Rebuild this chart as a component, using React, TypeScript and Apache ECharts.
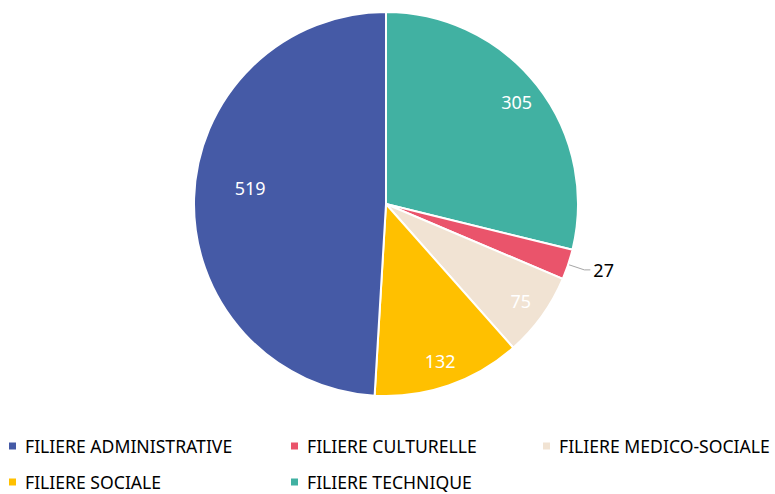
import React, { useEffect, useRef } from "react";
import * as echarts from "echarts";

const categories = [
  "FILIERE TECHNIQUE",
  "FILIERE CULTURELLE",
  "FILIERE MEDICO-SOCIALE",
  "FILIERE SOCIALE",
  "FILIERE ADMINISTRATIVE",
];
const values = [305, 27, 75, 132, 519];
const colors = ["#41B1A2", "#EA546B", "#F1E3D3", "#FFC000", "#455AA6"];
const legendOrder = [
  "FILIERE ADMINISTRATIVE",
  "FILIERE CULTURELLE",
  "FILIERE MEDICO-SOCIALE",
  "FILIERE SOCIALE",
  "FILIERE TECHNIQUE",
];

const FONT = "'Noto Sans', sans-serif";

export default function App() {
  const ref = useRef<HTMLDivElement>(null);
  useEffect(() => {
    if (!ref.current) return;
    const chart = echarts.init(ref.current, undefined, { renderer: "svg" });
    const legendPos = [
      { left: 9, top: 437 },
      { left: 291, top: 437 },
      { left: 543, top: 437 },
      { left: 9, top: 473 },
      { left: 291, top: 473 },
    ];
    const legends = legendOrder.map((name, i) => ({
      data: [name],
      left: legendPos[i].left,
      top: legendPos[i].top,
      orient: "horizontal",
      padding: 0,
      itemWidth: 7,
      itemHeight: 7,
      itemGap: 0,
      icon: "rect",
      itemStyle: { borderWidth: 0 },
      textStyle: {
        fontFamily: FONT,
        fontSize: 17.6,
        color: "#000",
        lineHeight: 16,
        padding: [0, 0, 0, 4],
      },
    }));
    const mainData = categories.map((name, i) => ({
      name,
      value: values[i],
      itemStyle: { color: colors[i] },
    }));
    const labelData = categories.map((name, i) => {
      const item: any = { name, value: values[i] };
      if (values[i] === 27) {
        item.label = {
          show: true,
          position: "outside",
          color: "#000",
          distanceToLabelLine: 3,
        };
        item.labelLine = {
          show: true,
          length: 17,
          length2: 6,
          lineStyle: { color: "#A6A6A6", width: 1 },
        };
      } else if (name === "FILIERE ADMINISTRATIVE") {
        item.label = { offset: [30, -11] };
      }
      return item;
    });
    chart.setOption({
      animation: false,
      legend: legends,
      series: [
        {
          type: "pie",
          center: [386, 204],
          radius: [0, 192],
          startAngle: 90,
          clockwise: true,
          silent: true,
          label: { show: false },
          labelLine: { show: false },
          itemStyle: { borderColor: "#fff", borderWidth: 2 },
          emphasis: { disabled: true },
          data: mainData,
        },
        {
          type: "pie",
          center: [386, 204],
          radius: [134, 192],
          startAngle: 90,
          clockwise: true,
          silent: true,
          itemStyle: { color: "rgba(0,0,0,0)", borderWidth: 0 },
          emphasis: { disabled: true },
          label: {
            show: true,
            position: "inside",
            color: "#fff",
            fontFamily: FONT,
            fontSize: 18,
            formatter: "{c}",
          },
          labelLine: { show: false },
          data: labelData,
        },
      ],
    });
    return () => chart.dispose();
  }, []);
  return (
    <div
      ref={ref}
      style={{ position: "fixed", left: 0, top: 0, width: 775, height: 494, background: "#fff" }}
    />
  );
}
